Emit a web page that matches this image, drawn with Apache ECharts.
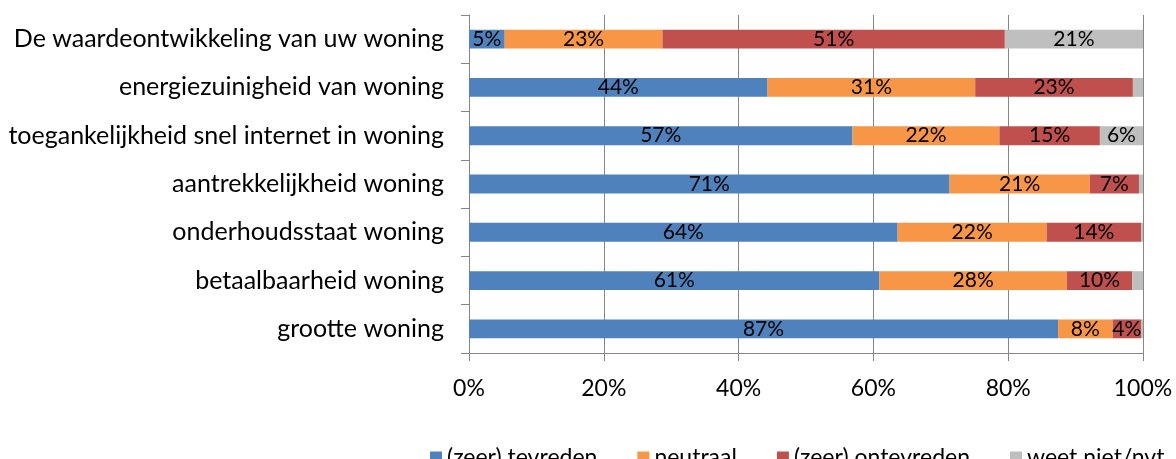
<!DOCTYPE html>
<html>
<head>
<meta charset="utf-8">
<script src="https://cdn.jsdelivr.net/npm/echarts@6/dist/echarts.min.js"></script>
<style>
  html, body { margin: 0; padding: 0; background: #fff; }
  #chart { width: 1176px; height: 459px; }
</style>
</head>
<body>
<div id="chart"></div>
<script>
const categories = [
  'De waardeontwikkeling van uw woning',
  'energiezuinigheid van woning',
  'toegankelijkheid snel internet in woning',
  'aantrekkelijkheid woning',
  'onderhoudsstaat woning',
  'betaalbaarheid woning',
  'grootte woning'
]
const tevreden = [5.3, 44.3, 56.9, 71.3, 63.6, 60.9, 87.4]
const neutraal = [23.4, 30.8, 21.8, 20.8, 22.1, 27.8, 8.1]
const ontevreden = [50.8, 23.4, 14.9, 7.3, 14.0, 9.7, 4.2]
const weetNiet = [20.5, 1.5, 6.4, 0.6, 0.3, 1.6, 0.3]
const seriesNames = ['(zeer) tevreden', 'neutraal', '(zeer) ontevreden', 'weet niet/nvt']
const colors = ['#4F81BD', '#F79646', '#C0504D', '#BFBFBF']
const font = 'Lato'

const makeSeries = (name, data, color) => ({
  name,
  type: 'bar',
  stack: 'total',
  barWidth: '39%',
  data,
  itemStyle: { color },
  label: {
    show: true,
    position: 'inside',
    color: '#000',
    fontFamily: font,
    fontSize: 21,
    formatter: p => (p.value < 3 ? '' : Math.round(p.value) + '%')
  }
})

const chart = echarts.init(document.getElementById('chart'))
chart.setOption({
  animation: false,
  color: colors,
  grid: { left: 469, right: 33, top: 15, bottom: 106 },
  legend: {
    left: 425,
    top: 441,
    itemWidth: 12,
    itemHeight: 12,
    itemGap: 40,
    icon: 'rect',
    textStyle: { fontFamily: font, fontSize: 23, color: '#000' },
    data: seriesNames
  },
  xAxis: {
    type: 'value',
    min: 0,
    max: 100,
    interval: 20,
    axisLine: { show: true, lineStyle: { color: '#868686' } },
    axisTick: { show: true, length: 8, lineStyle: { color: '#868686' } },
    splitLine: { show: true, lineStyle: { color: '#868686' } },
    axisLabel: {
      formatter: v => v + '%',
      fontFamily: font,
      fontSize: 23,
      color: '#000',
      margin: 24
    }
  },
  yAxis: {
    type: 'category',
    inverse: true,
    data: categories,
    axisLine: { show: true, lineStyle: { color: '#868686' } },
    axisTick: { show: true, length: 8, lineStyle: { color: '#868686' } },
    axisLabel: {
      fontFamily: font,
      fontSize: 25,
      color: '#000',
      margin: 25
    }
  },
  series: [
    makeSeries(seriesNames[0], tevreden, colors[0]),
    makeSeries(seriesNames[1], neutraal, colors[1]),
    makeSeries(seriesNames[2], ontevreden, colors[2]),
    makeSeries(seriesNames[3], weetNiet, colors[3])
  ]
})
</script>
</body>
</html>
